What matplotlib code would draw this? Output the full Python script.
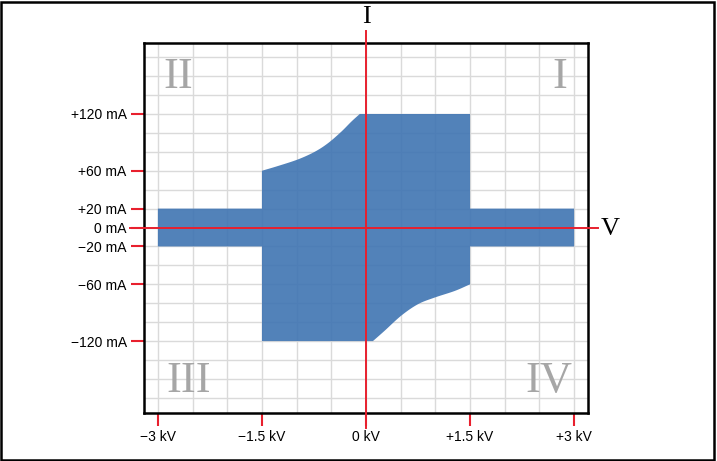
import matplotlib
matplotlib.use('Agg')
import matplotlib.pyplot as plt
from matplotlib.patches import Rectangle
import numpy as np

# operating region data (kV, mA)
band_v = [-3.0, 3.0]
band_i = 20
block_v = [-1.5, 1.5]
top_i = 120
bottom_i = -120
# curved edges
upper_v = [-1.5, -1.27, -0.98, -0.74, -0.55, -0.36, -0.21, -0.09]
upper_i = [60, 65, 72, 80, 89, 101, 112, 120]
lower_v = [0.10, 0.27, 0.51, 0.75, 0.99, 1.28, 1.5]
lower_i = [-120, -109, -93, -81, -74, -67, -60]

x_ticks = [-3, -1.5, 0, 1.5, 3]
x_labels = ['\u22123 kV', '\u22121.5 kV', '0 kV', '+1.5 kV', '+3 kV']
y_ticks = [120, 60, 20, 0, -20, -60, -120]
y_labels = ['+120 mA', '+60 mA', '+20 mA', '0 mA', '\u221220 mA', '\u221260 mA', '\u2212120 mA']
quadrants = ['I', 'II', 'III', 'IV']

red = '#e8202e'
blue = '#3f74b2'
grey = '#a6a6a6'
serif = ['Liberation Serif', 'DejaVu Serif']
sans = ['Liberation Sans Narrow', 'Liberation Sans', 'DejaVu Sans']


def smooth(xs, ys, n=10):
    # catmull-rom through the read points, one-sided tangents at the ends
    p = np.column_stack([xs, ys]).astype(float)
    m = np.zeros_like(p)
    m[1:-1] = (p[2:] - p[:-2]) / 2
    m[0] = p[1] - p[0]
    m[-1] = p[-1] - p[-2]
    out = [p[0]]
    for k in range(len(p) - 1):
        for t in np.linspace(0, 1, n)[1:]:
            h00 = 2 * t**3 - 3 * t**2 + 1
            h10 = t**3 - 2 * t**2 + t
            h01 = -2 * t**3 + 3 * t**2
            h11 = t**3 - t**2
            out.append(h00 * p[k] + h10 * m[k] + h01 * p[k + 1] + h11 * m[k + 1])
    out = np.array(out)
    return list(out[:, 0]), list(out[:, 1])


fig = plt.figure(figsize=(7.17, 4.61), dpi=100)
ax = fig.add_axes([144 / 717, 48 / 461, 444 / 717, 370 / 461])
ax.set_xlim(-3.2, 3.2)
ax.set_ylim(-196, 195)

uv, ui = smooth(upper_v, upper_i)
lv, li = smooth(lower_v, lower_i)

# outline of the shaded region, clockwise from the left end of the band
px = [band_v[0], block_v[0]] + uv + [block_v[1], block_v[1], band_v[1], band_v[1], block_v[1]] \
    + lv[::-1] + [block_v[0], block_v[0], band_v[0]]
py = [band_i, band_i] + ui + [top_i, band_i, band_i, -band_i, -band_i] \
    + li[::-1] + [bottom_i, -band_i, -band_i]
ax.fill(px, py, color=blue, alpha=0.9, lw=0, zorder=2)

# grid
ax.set_xticks(np.arange(-3, 3.01, 0.5), minor=True)
ax.set_yticks(np.arange(-180, 181, 20), minor=True)
ax.grid(which='both', color='#dadada', lw=1.0, zorder=1)
ax.set_axisbelow(True)
ax.tick_params(which='minor', length=0)

ax.set_xticks(x_ticks)
ax.set_xticklabels(x_labels, family=sans, fontsize=10)
ax.set_yticks(y_ticks)
ax.set_yticklabels(y_labels, family=sans, fontsize=10)
ax.tick_params(which='major', color=red, width=1.5, length=9.5, direction='out', pad=3)

for s in ax.spines.values():
    s.set_linewidth(1.8)
    s.set_color('black')

# axis lines
ax.plot([0, 0], [-212, 208], color=red, lw=1.4, clip_on=False, zorder=3)
ax.plot([-3.4, 3.35], [0, 0], color=red, lw=1.4, clip_on=False, zorder=3)
ax.text(0, 222, 'I', family=serif, fontsize=19, ha='center', va='center', clip_on=False)
ax.text(3.52, -2, 'V', family=serif, fontsize=19, ha='center', va='center', clip_on=False)

# quadrant labels
qpos = [(2.8, 158.6), (-2.71, 158.6), (-2.56, -161.7), (2.63, -161.7)]
for q, (qx, qy) in zip(quadrants, qpos):
    ax.text(qx, qy, q, family=serif, fontsize=32, color=grey, ha='center', va='center')

fig.patches.append(Rectangle((0.0015, 0.003), 0.995, 0.993, transform=fig.transFigure,
                             fill=False, edgecolor='black', lw=1.8))

fig.savefig('out.png', dpi=100)
